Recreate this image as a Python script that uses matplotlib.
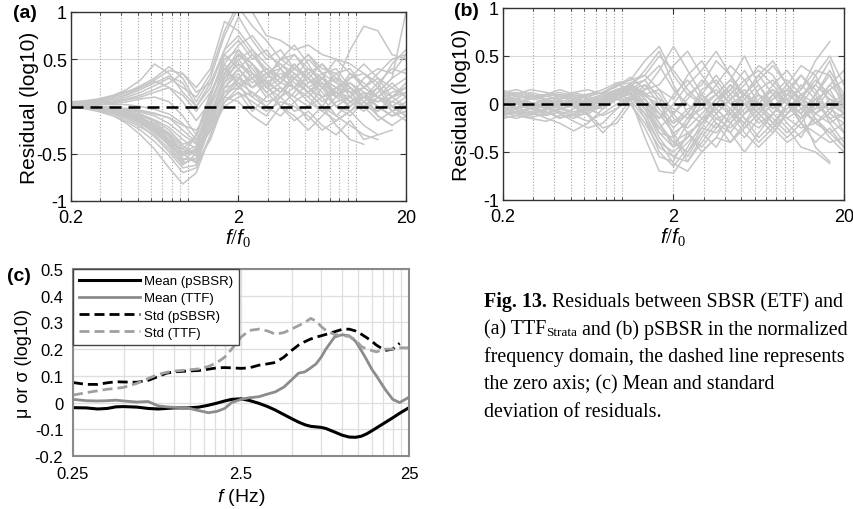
import matplotlib
matplotlib.use('Agg')
import matplotlib.pyplot as plt
import numpy as np

plt.rcParams['font.family'] = ['Liberation Sans', 'DejaVu Sans']
plt.rcParams['mathtext.fontset'] = 'custom'
plt.rcParams['mathtext.rm'] = 'Liberation Serif'
plt.rcParams['mathtext.it'] = 'Liberation Sans:italic'

nan = np.nan

# normalized frequency grid for panels (a) and (b)
f_norm = [0.2, 0.24, 0.29, 0.36, 0.43, 0.52, 0.63, 0.77, 0.93, 1.12, 1.36, 1.65, 2.0,
          2.42, 2.93, 3.56, 4.31, 5.22, 6.32, 7.66, 9.28, 11.2, 13.6, 16.5, 20]
norm_ticks = [0.2, 2, 20]
norm_ticklabels = ['0.2', '2', '20']
norm_minor = [0.3, 0.4, 0.5, 0.6, 0.7, 0.8, 0.9, 1.0, 3, 4, 5, 6, 7, 8, 9, 10]

# (a) residuals SBSR vs TTF_Strata
res_ttf = [
    [0.02, 0.01, 0.0, -0.03, -0.06, -0.12, -0.2, -0.32, -0.5, -0.45, 0.05, 0.35, 0.3, 0.2, 0.28, 0.15, 0.3, 0.2, 0.1, 0.15, 0.05, 0.1, 0.0, -0.1, -0.05],
    [0.0, -0.01, -0.04, -0.08, -0.14, -0.22, -0.3, -0.45, -0.62, -0.5, 0.1, 0.55, 0.4, 0.25, 0.35, 0.2, 0.1, 0.25, 0.3, 0.1, 0.2, 0.05, 0.15, 0.3, 0.4],
    [0.0, -0.02, -0.05, -0.1, -0.18, -0.3, -0.45, -0.65, -0.82, -0.7, -0.3, 0.1, 0.25, 0.15, 0.05, 0.1, -0.05, 0.0, 0.1, -0.1, -0.2, -0.3, -0.35, nan, nan],
    [0.05, 0.06, 0.08, 0.12, 0.18, 0.28, 0.45, 0.35, 0.15, 0.0, 0.2, 0.6, 0.95, 0.7, 0.5, 0.6, 0.4, 0.3, 0.45, 0.3, 0.2, 0.1, 0.0, -0.1, 0.0],
    [0.03, 0.04, 0.06, 0.1, 0.15, 0.22, 0.3, 0.42, 0.3, 0.05, 0.3, 0.75, 1.05, 0.85, 0.7, 0.5, 0.55, 0.4, 0.3, 0.2, 0.25, 0.1, 0.05, 0.1, 0.2],
    [0.02, 0.02, 0.03, 0.05, 0.08, 0.12, 0.18, 0.25, 0.35, 0.2, 0.4, 0.9, 0.8, 0.6, 0.35, 0.45, 0.3, 0.5, 0.35, 0.25, 0.6, 0.85, 0.8, 0.55, 0.5],
    [0.0, -0.01, -0.02, -0.04, -0.07, -0.1, -0.15, -0.25, -0.4, -0.35, 0.0, 0.3, 0.45, 0.35, 0.2, 0.4, 0.25, 0.15, 0.3, 0.2, 0.05, -0.05, 0.1, 0.2, 0.3],
    [0.01, 0.0, -0.02, -0.05, -0.1, -0.18, -0.28, -0.4, -0.55, -0.58, -0.2, 0.2, 0.35, 0.1, 0.25, 0.0, 0.15, 0.35, 0.2, 0.0, -0.1, 0.05, -0.05, 0.1, 0.15],
    [0.0, 0.0, -0.01, -0.02, -0.04, -0.06, -0.1, -0.18, -0.3, -0.4, -0.1, 0.15, 0.2, 0.3, 0.4, 0.3, 0.2, 0.1, -0.05, 0.1, 0.25, 0.15, -0.1, -0.2, -0.1],
    [0.01, 0.01, 0.0, -0.02, -0.05, -0.09, -0.16, -0.3, -0.5, -0.6, -0.35, 0.05, 0.15, -0.05, 0.1, 0.2, 0.05, -0.15, 0.0, -0.2, -0.35, -0.4, nan, nan, nan],
    [0.02, 0.02, 0.02, 0.03, 0.05, 0.08, 0.1, 0.05, -0.1, -0.3, 0.1, 0.5, 0.6, 0.45, 0.3, 0.5, 0.65, 0.45, 0.2, 0.35, 0.4, 0.2, 0.1, 0.0, -0.1],
    [0.0, -0.01, -0.03, -0.06, -0.1, -0.16, -0.24, -0.36, -0.48, -0.42, -0.05, 0.25, 0.5, 0.6, 0.45, 0.3, 0.2, 0.3, 0.15, 0.0, 0.1, 0.3, 0.4, 0.35, 0.55],
    [0.01, 0.0, -0.01, -0.03, -0.06, -0.11, -0.2, -0.35, -0.58, -0.45, 0.0, 0.45, 0.2, 0.1, 0.0, 0.15, 0.35, 0.2, 0.05, 0.15, 0.0, 0.1, 0.2, -0.05, -0.15],
    [0.04, 0.05, 0.07, 0.11, 0.16, 0.2, 0.28, 0.38, 0.35, 0.15, 0.25, 0.55, 0.7, 0.5, 0.6, 0.4, 0.55, 0.35, 0.45, 0.25, 0.15, 0.2, 0.35, 0.5, 0.55],
    [0.0, -0.01, -0.02, -0.05, -0.08, -0.14, -0.22, -0.38, -0.52, -0.3, 0.15, 0.4, 0.25, 0.3, 0.1, 0.2, 0.1, 0.0, 0.2, 0.3, 0.1, 0.0, -0.15, -0.05, 0.05],
    [0.0, 0.0, 0.0, -0.01, -0.03, -0.05, -0.08, -0.12, -0.2, -0.25, -0.05, 0.1, 0.05, -0.1, -0.2, 0.0, -0.1, -0.25, -0.1, 0.05, 0.1, 0.0, 0.15, 0.3, 1.0],
    [0.01, 0.0, -0.02, -0.04, -0.08, -0.13, -0.2, -0.3, -0.45, -0.52, -0.1, 0.3, 0.55, 0.45, 0.25, 0.35, 0.3, 0.15, 0.25, 0.0, -0.05, 0.1, 0.05, 0.15, 0.2],
    [0.0, -0.01, -0.03, -0.07, -0.12, -0.2, -0.32, -0.48, -0.65, -0.62, -0.2, 0.35, 0.6, 0.35, 0.15, 0.0, -0.15, -0.05, -0.2, -0.3, -0.15, -0.35, -0.3, nan, nan],
    [0.02, 0.02, 0.02, 0.02, 0.02, 0.0, -0.03, -0.08, -0.18, -0.35, -0.15, 0.2, 0.4, 0.2, 0.3, 0.5, 0.4, 0.55, 0.35, 0.1, 0.0, 0.15, 0.1, 0.05, 0.0],
    [0.0, -0.01, -0.02, -0.04, -0.07, -0.12, -0.18, -0.28, -0.42, -0.5, -0.25, 0.1, 0.3, 0.2, 0.35, 0.25, 0.4, 0.3, 0.1, 0.2, 0.3, 0.35, 0.2, 0.1, 0.25],
    [0.03, 0.03, 0.04, 0.06, 0.1, 0.15, 0.22, 0.3, 0.2, 0.1, 0.35, 0.8, 1.1, 1.0, 0.75, 0.7, 0.6, 0.65, 0.55, 0.5, 0.45, 0.35, 0.25, 0.0, -0.1],
    [0.0, -0.02, -0.04, -0.07, -0.11, -0.17, -0.26, -0.4, -0.56, -0.55, -0.15, 0.2, 0.25, 0.0, -0.1, 0.1, 0.2, 0.05, -0.05, -0.15, -0.05, -0.2, -0.3, -0.25, nan],
    [0.01, 0.0, -0.01, -0.03, -0.07, -0.13, -0.22, -0.35, -0.5, -0.48, -0.1, 0.3, 0.45, 0.3, 0.4, 0.25, 0.2, 0.4, 0.3, 0.15, 0.1, 0.2, 0.1, 0.0, 0.1],
    [0.02, 0.03, 0.05, 0.08, 0.13, 0.2, 0.27, 0.2, 0.05, -0.15, 0.05, 0.4, 0.55, 0.4, 0.2, 0.3, 0.45, 0.3, 0.2, 0.1, 0.3, 0.45, 0.3, 0.1, 0.0],
    [0.0, -0.01, -0.03, -0.05, -0.09, -0.15, -0.25, -0.42, -0.6, -0.55, -0.2, 0.15, 0.3, 0.45, 0.2, 0.1, 0.3, 0.15, 0.0, 0.2, 0.15, 0.0, 0.1, 0.25, 0.1],
    [0.0, 0.0, -0.01, -0.02, -0.05, -0.08, -0.14, -0.22, -0.35, -0.45, -0.2, 0.05, 0.2, 0.35, 0.25, 0.15, 0.3, 0.4, 0.25, 0.1, 0.2, 0.1, 0.25, 0.4, 0.35],
    [0.03, 0.04, 0.05, 0.08, 0.12, 0.18, 0.25, 0.32, 0.25, 0.0, 0.25, 0.6, 0.75, 0.55, 0.4, 0.3, 0.4, 0.55, 0.4, 0.35, 0.15, 0.0, -0.05, 0.05, 0.15],
    [0.01, 0.0, -0.02, -0.05, -0.09, -0.16, -0.26, -0.4, -0.52, -0.48, -0.25, 0.0, 0.1, 0.15, 0.0, -0.1, 0.05, 0.15, 0.0, -0.1, 0.05, 0.15, 0.0, -0.1, -0.05],
    [0.0, -0.01, -0.02, -0.04, -0.08, -0.14, -0.24, -0.38, -0.45, -0.3, 0.05, 0.35, 0.5, 0.3, 0.15, 0.25, 0.45, 0.25, 0.35, 0.4, 0.2, 0.05, 0.2, 0.45, 0.6],
    [0.02, 0.01, 0.0, -0.01, -0.02, -0.04, -0.07, -0.12, -0.25, -0.38, -0.1, 0.25, 0.4, 0.55, 0.35, 0.4, 0.2, 0.1, 0.25, 0.15, 0.35, 0.25, 0.1, -0.05, 0.0],
    [0.0, -0.02, -0.05, -0.1, -0.16, -0.25, -0.37, -0.52, -0.7, -0.65, -0.3, 0.05, 0.15, 0.05, -0.05, 0.05, 0.0, -0.1, -0.25, -0.15, -0.05, 0.05, -0.1, -0.2, nan],
    [0.01, 0.01, 0.02, 0.04, 0.07, 0.1, 0.15, 0.2, 0.12, -0.05, 0.15, 0.45, 0.65, 0.75, 0.55, 0.45, 0.35, 0.2, 0.3, 0.5, 0.35, 0.2, 0.3, 0.2, 0.1],
]

# (b) residuals SBSR vs pSBSR
res_psbsr = [
    [0.1, 0.12, 0.08, 0.1, 0.12, 0.08, 0.1, 0.15, 0.22, 0.25, 0.45, 0.6, 0.3, 0.1, 0.2, 0.45, 0.3, 0.1, 0.25, 0.4, 0.2, 0.05, 0.3, 0.5, 0.2],
    [-0.1, -0.08, -0.12, -0.05, -0.1, -0.15, -0.08, 0.0, 0.1, 0.05, -0.35, -0.7, -0.72, -0.5, -0.3, -0.45, -0.2, -0.35, -0.15, 0.0, -0.2, -0.35, -0.1, 0.0, -0.3],
    [0.0, 0.05, 0.02, -0.03, 0.05, 0.08, 0.0, 0.05, 0.15, 0.2, 0.0, -0.3, -0.45, -0.2, 0.1, -0.1, -0.3, -0.1, 0.1, -0.05, 0.15, 0.3, 0.1, -0.2, -0.4],
    [0.05, 0.0, -0.05, 0.02, -0.02, 0.05, 0.1, 0.12, 0.18, 0.28, 0.15, 0.2, 0.4, 0.55, 0.3, 0.1, 0.25, 0.5, 0.2, -0.05, 0.1, 0.0, 0.2, 0.45, 0.0],
    [-0.05, -0.1, -0.08, -0.15, -0.2, -0.28, -0.2, -0.05, 0.05, 0.0, -0.25, -0.55, -0.6, -0.3, -0.45, -0.25, -0.05, -0.2, -0.4, -0.25, 0.0, -0.1, -0.45, -0.6, nan],
    [0.08, 0.05, 0.1, 0.05, 0.0, 0.02, 0.05, 0.08, 0.12, 0.15, 0.2, 0.0, -0.2, -0.1, 0.1, 0.3, 0.1, -0.1, 0.0, 0.2, 0.35, 0.15, 0.45, 0.65, nan],
    [-0.12, -0.15, -0.1, -0.12, -0.08, -0.12, -0.18, -0.1, 0.0, 0.08, -0.1, -0.4, -0.5, -0.35, -0.15, -0.05, -0.2, 0.0, -0.15, -0.3, -0.1, 0.05, -0.15, -0.35, -0.5],
    [0.12, 0.08, 0.05, 0.1, 0.15, 0.1, 0.05, 0.1, 0.2, 0.25, 0.3, 0.5, 0.35, 0.15, 0.0, 0.2, 0.4, 0.25, 0.0, 0.15, 0.0, -0.15, 0.0, 0.2, 0.05],
    [-0.02, 0.0, -0.05, -0.1, -0.05, -0.02, -0.1, -0.25, -0.2, 0.0, 0.05, -0.1, -0.3, -0.55, -0.3, -0.1, 0.05, 0.15, -0.05, -0.2, -0.05, 0.1, 0.0, -0.15, -0.1],
    [0.05, 0.08, 0.12, 0.08, 0.05, 0.12, 0.15, 0.1, 0.15, 0.2, 0.1, 0.15, 0.05, 0.3, 0.45, 0.2, 0.0, 0.1, 0.3, 0.1, -0.1, 0.05, 0.25, 0.1, -0.05],
    [-0.08, -0.05, 0.0, 0.05, -0.05, -0.1, -0.05, 0.05, 0.1, 0.1, -0.1, -0.25, -0.1, 0.1, 0.0, -0.2, -0.4, -0.2, 0.05, 0.15, 0.0, -0.2, -0.3, -0.4, -0.35],
    [0.0, -0.05, -0.02, 0.0, 0.03, -0.03, -0.12, -0.3, -0.15, 0.05, 0.2, 0.1, -0.15, -0.25, -0.1, 0.05, 0.15, 0.0, -0.1, 0.1, 0.25, 0.1, -0.1, 0.0, 0.1],
    [0.1, 0.05, 0.0, -0.05, 0.0, 0.05, 0.0, -0.05, 0.05, 0.15, 0.25, 0.05, -0.35, -0.6, -0.4, -0.2, -0.3, -0.5, -0.3, -0.1, -0.25, -0.45, -0.5, -0.62, nan],
    [-0.15, -0.12, -0.15, -0.18, -0.12, -0.05, 0.0, 0.02, 0.08, 0.12, -0.15, -0.5, -0.65, -0.45, -0.2, 0.0, 0.15, 0.35, 0.1, -0.1, 0.1, 0.3, 0.15, -0.1, -0.2],
    [0.02, 0.0, 0.05, 0.1, 0.08, 0.02, -0.05, 0.0, 0.12, 0.18, 0.35, 0.55, 0.2, -0.1, -0.2, 0.0, 0.2, 0.0, -0.2, -0.1, 0.1, 0.0, -0.2, -0.1, 0.1],
    [-0.05, -0.08, -0.05, -0.02, -0.1, -0.18, -0.25, -0.2, -0.05, 0.05, 0.0, -0.2, -0.4, -0.3, -0.5, -0.35, -0.1, 0.1, 0.3, 0.45, 0.2, 0.0, -0.1, 0.05, 0.0],
    [0.08, 0.1, 0.15, 0.12, 0.08, 0.05, 0.1, 0.12, 0.2, 0.22, 0.05, -0.15, 0.0, 0.2, 0.35, 0.55, 0.3, 0.05, -0.1, 0.05, 0.2, 0.4, 0.3, 0.0, -0.1],
    [-0.1, -0.12, -0.08, -0.05, -0.08, -0.12, -0.1, -0.02, 0.05, 0.0, -0.2, -0.45, -0.55, -0.6, -0.35, -0.15, -0.25, -0.1, 0.0, -0.15, -0.3, -0.15, 0.05, 0.15, -0.1],
    [0.0, 0.02, 0.0, -0.02, 0.02, 0.0, 0.02, 0.05, 0.1, 0.12, 0.0, -0.1, -0.2, -0.05, 0.0, -0.15, -0.1, 0.05, 0.2, 0.0, -0.15, -0.05, 0.05, -0.05, -0.15],
    [0.05, 0.02, -0.02, -0.08, -0.15, -0.1, -0.02, 0.05, 0.12, 0.18, 0.1, -0.05, -0.25, -0.1, 0.15, 0.25, 0.05, -0.15, -0.25, -0.1, 0.05, 0.15, 0.35, 0.3, -0.05],
    [-0.03, -0.06, -0.1, -0.06, -0.02, 0.0, -0.05, -0.12, -0.05, 0.08, 0.15, 0.35, 0.6, 0.35, 0.1, -0.05, -0.2, -0.05, 0.15, 0.25, 0.05, -0.2, -0.4, -0.25, -0.45],
    [0.12, 0.15, 0.1, 0.05, 0.08, 0.12, 0.08, 0.03, 0.1, 0.2, 0.12, -0.1, -0.3, -0.2, 0.0, 0.1, -0.05, -0.25, -0.1, 0.1, 0.0, -0.1, 0.1, 0.3, 0.05],
    [0.03, 0.06, 0.08, 0.04, 0.0, -0.03, 0.02, 0.08, 0.15, 0.18, 0.05, -0.2, -0.45, -0.35, -0.15, 0.05, 0.2, 0.1, -0.1, -0.25, -0.1, 0.1, 0.2, 0.05, -0.1],
    [-0.06, -0.03, 0.0, 0.04, 0.08, 0.05, 0.0, -0.05, 0.08, 0.22, 0.3, 0.15, -0.1, -0.3, -0.2, -0.05, 0.1, 0.25, 0.35, 0.2, 0.0, -0.15, -0.05, 0.15, 0.25],
    [0.0, -0.04, -0.08, -0.1, -0.06, 0.0, 0.04, 0.0, 0.05, 0.12, -0.05, -0.35, -0.55, -0.4, -0.25, -0.3, -0.15, 0.0, 0.1, 0.0, -0.15, -0.25, -0.2, -0.3, -0.2],
    [0.14, 0.1, 0.06, 0.08, 0.1, 0.06, 0.02, 0.06, 0.14, 0.16, 0.08, 0.0, -0.1, 0.05, 0.25, 0.1, -0.1, -0.2, -0.05, 0.1, 0.15, -0.05, -0.2, -0.05, 0.05],
    [-0.08, -0.1, -0.14, -0.1, -0.04, -0.02, -0.06, -0.02, 0.06, 0.1, -0.05, -0.3, -0.35, -0.15, 0.05, 0.15, 0.0, -0.15, -0.35, -0.2, 0.0, 0.2, 0.05, -0.15, -0.3],
    [0.04, 0.02, 0.0, 0.02, 0.06, 0.1, 0.06, 0.0, 0.08, 0.2, 0.25, 0.4, 0.15, 0.0, -0.15, -0.25, -0.05, 0.1, 0.0, -0.2, -0.35, -0.2, 0.0, 0.2, 0.35],
    [-0.02, 0.02, 0.06, 0.02, -0.04, -0.08, -0.04, 0.04, 0.12, 0.16, 0.0, -0.25, -0.4, -0.5, -0.25, 0.0, -0.1, -0.3, -0.45, -0.3, -0.1, 0.0, -0.1, -0.2, -0.1],
    [0.06, 0.04, 0.0, -0.04, 0.0, 0.04, 0.08, 0.12, 0.2, 0.16, -0.05, -0.15, 0.1, 0.25, 0.05, -0.1, 0.05, 0.2, 0.4, 0.3, 0.05, -0.1, 0.1, 0.35, 0.1],
    [-0.12, -0.08, -0.04, -0.08, -0.14, -0.12, -0.06, 0.0, 0.06, 0.04, -0.15, -0.4, -0.62, -0.7, -0.5, -0.35, -0.4, -0.25, -0.1, -0.25, -0.4, -0.3, -0.15, -0.3, -0.45],
    [0.02, 0.0, -0.02, 0.0, 0.04, 0.02, -0.02, 0.02, 0.1, 0.14, 0.1, 0.05, -0.05, -0.15, -0.05, 0.1, 0.25, 0.1, -0.05, 0.05, 0.15, 0.05, -0.05, 0.0, 0.05],
]

# (c) mean and std of residuals vs frequency in Hz
f_hz = [0.25, 0.3, 0.35, 0.4, 0.45, 0.5, 0.6, 0.7, 0.8, 0.9, 1.0, 1.2, 1.4, 1.6, 1.8, 2.0, 2.2,
        2.5, 2.8, 3.2, 3.6, 4.0, 4.5, 5.0, 5.5, 6.0, 6.5, 7.0, 7.5, 8.0, 9.0, 10, 11, 12, 13,
        14, 15, 16, 18, 20, 22, 25]
mean_psbsr = [-0.019, -0.02, -0.024, -0.022, -0.016, -0.015, -0.017, -0.022, -0.024, -0.022,
              -0.02, -0.02, -0.017, -0.01, -0.002, 0.006, 0.012, 0.014, 0.008, -0.003, -0.015,
              -0.028, -0.045, -0.06, -0.073, -0.083, -0.089, -0.091, -0.093, -0.097, -0.11,
              -0.122, -0.129, -0.13, -0.126, -0.117, -0.106, -0.095, -0.075, -0.057, -0.04, -0.019]
mean_ttf = [0.012, 0.007, 0.006, 0.007, 0.009, 0.006, 0.002, 0.004, -0.012, -0.016, -0.018,
            -0.02, -0.03, -0.038, -0.033, -0.022, 0.0, 0.012, 0.018, 0.022, 0.032, 0.04, 0.058,
            0.085, 0.11, 0.115, 0.13, 0.145, 0.17, 0.2, 0.245, 0.254, 0.25, 0.23, 0.195, 0.16,
            0.125, 0.1, 0.05, 0.012, 0.0, 0.02]
std_psbsr = [0.075, 0.068, 0.068, 0.074, 0.078, 0.077, 0.076, 0.083, 0.097, 0.11, 0.115, 0.118,
             0.12, 0.125, 0.13, 0.131, 0.13, 0.128, 0.13, 0.14, 0.145, 0.15, 0.17, 0.195, 0.215,
             0.228, 0.238, 0.245, 0.25, 0.255, 0.265, 0.274, 0.275, 0.268, 0.256, 0.243, 0.23,
             0.215, 0.195, 0.2, 0.222, nan]
std_ttf = [0.028, 0.037, 0.044, 0.05, 0.053, 0.057, 0.072, 0.09, 0.105, 0.113, 0.118, 0.122,
           0.126, 0.135, 0.15, 0.17, 0.2, 0.245, 0.27, 0.275, 0.268, 0.256, 0.262, 0.275, 0.288,
           0.3, 0.315, 0.305, 0.285, 0.27, 0.255, 0.25, 0.248, 0.235, 0.21, 0.2, 0.195, 0.19,
           0.2, 0.2, 0.205, 0.205]
hz_ticks = [0.25, 2.5, 25]
hz_ticklabels = ['0.25', '2.5', '25']
hz_minor = [0.5, 0.75, 1.0, 1.25, 1.5, 1.75, 2.0, 2.25, 5, 7.5, 10, 12.5, 15, 17.5, 20, 22.5]

W, H = 854.0, 510.0
fig = plt.figure(figsize=(W / 100, H / 100), dpi=100)


def box(l, t, r, b):
    return [l / W, 1 - b / H, (r - l) / W, (b - t) / H]


def residual_panel(ax, curves):
    for c in curves:
        ax.plot(f_norm, c, color='#c6c6c6', lw=1.1, zorder=2)
    ax.axhline(0, color='k', lw=1.8, ls=(0, (4.8, 2.8)), zorder=3)
    for v in (-0.5, 0.5):
        ax.axhline(v, color='#d9d9d9', lw=0.8, zorder=1)
    ax.set_xscale('log')
    ax.set_xlim(0.2, 20)
    ax.set_ylim(-1, 1)
    ax.set_xticks(norm_ticks)
    ax.set_xticklabels(norm_ticklabels)
    ax.set_xticks(norm_minor, minor=True)
    ax.set_xticklabels([], minor=True)
    ax.set_yticks([-1, -0.5, 0, 0.5, 1])
    ax.set_yticklabels(['-1', '-0.5', '0', '0.5', '1'])
    ax.grid(axis='x', which='both', ls=':', color='#a8a8a8', lw=0.8, zorder=1)
    ax.tick_params(which='both', direction='in', top=True, right=True, labelsize=13,
                   color='#333333', pad=3)
    ax.tick_params(axis='x', which='major', pad=6)
    ax.tick_params(which='major', length=4)
    ax.tick_params(which='minor', length=2.5)
    for s in ax.spines.values():
        s.set_color('#333333')
        s.set_linewidth(1.0)
    ax.set_ylabel('Residual (log10)', fontsize=15, labelpad=-2)
    ax.set_xlabel(r'$\mathit{f/f}_{\mathit{0}}$', fontsize=15, labelpad=0)


ax_a = fig.add_axes(box(71, 13, 406, 202))
residual_panel(ax_a, res_ttf)
ax_b = fig.add_axes(box(503, 9, 844, 201))
residual_panel(ax_b, res_psbsr)

ax_c = fig.add_axes(box(73, 270, 409, 457))
ax_c.plot(f_hz, mean_psbsr, color='k', lw=2.2, label='Mean (pSBSR)')
ax_c.plot(f_hz, mean_ttf, color='#8c8c8c', lw=2.0, label='Mean (TTF)')
ax_c.plot(f_hz, std_psbsr, color='k', lw=2.0, ls=(0, (3.6, 1.8)), label='Std (pSBSR)')
ax_c.plot(f_hz, std_ttf, color='#a0a0a0', lw=2.0, ls=(0, (3.6, 1.8)), label='Std (TTF)')
ax_c.set_xscale('log')
ax_c.set_xlim(0.25, 25)
ax_c.set_ylim(-0.2, 0.5)
ax_c.set_xticks(hz_ticks)
ax_c.set_xticklabels(hz_ticklabels)
ax_c.set_xticks(hz_minor, minor=True)
ax_c.set_xticklabels([], minor=True)
ax_c.set_yticks([-0.2, -0.1, 0, 0.1, 0.2, 0.3, 0.4, 0.5])
ax_c.set_yticklabels(['-0.2', '-0.1', '0', '0.1', '0.2', '0.3', '0.4', '0.5'])
ax_c.grid(which='both', color='#dedede', lw=0.9, zorder=0)
ax_c.set_axisbelow(True)
ax_c.tick_params(which='both', length=0, labelsize=12, pad=7)
for s in ax_c.spines.values():
    s.set_color('#8a8a8a')
    s.set_linewidth(1.5)
ax_c.set_ylabel('\u03bc or \u03c3 (log10)', fontsize=13, labelpad=2)
ax_c.set_xlabel(r'$\mathit{f}$ (Hz)', fontsize=14, labelpad=4)
leg = ax_c.legend(loc='upper left', fontsize=9.5, handlelength=4.6, borderaxespad=0,
                  frameon=True, fancybox=False, framealpha=1, edgecolor='#444444',
                  labelspacing=0.38, borderpad=0.45, handletextpad=0.35)
leg.get_frame().set_linewidth(1.0)

# panel letters
fig.text(25 / W, 1 - 14 / H, '(a)', fontsize=14, fontweight='bold', ha='center', va='center')
fig.text(466 / W, 1 - 12 / H, '(b)', fontsize=14, fontweight='bold', ha='center', va='center')
fig.text(19 / W, 1 - 277 / H, '(c)', fontsize=14, fontweight='bold', ha='center', va='center')

# caption, written piece by piece so the bold lead-in and the subscript sit inline
cap_fs = 14.4
serif = ['Liberation Serif', 'DejaVu Serif']


def caption_line(pieces, x, y):
    for s, size, weight, dy in pieces:
        t = fig.text(x / W, 1 - (y + dy) / H, s, fontsize=size, fontweight=weight,
                     family=serif, va='baseline')
        x = t.get_window_extent(fig.canvas.get_renderer()).x1


caption_line([('Fig. 13.', cap_fs, 'bold', 0),
              (' Residuals between SBSR (ETF) and', cap_fs, 'normal', 0)], 484, 307)
caption_line([('(a) TTF', cap_fs, 'normal', 0),
              ('Strata', 9.5, 'normal', 2),
              (' and (b) pSBSR in the normalized', cap_fs, 'normal', 0)], 484, 334.5)
cap_rest = ['frequency domain, the dashed line represents',
            'the zero axis; (c) Mean and standard',
            'deviation of residuals.']
for i, line in enumerate(cap_rest):
    fig.text(484 / W, 1 - (362 + 27.5 * i) / H, line, fontsize=cap_fs, family=serif,
             va='baseline')

fig.savefig('out.png', dpi=100)
